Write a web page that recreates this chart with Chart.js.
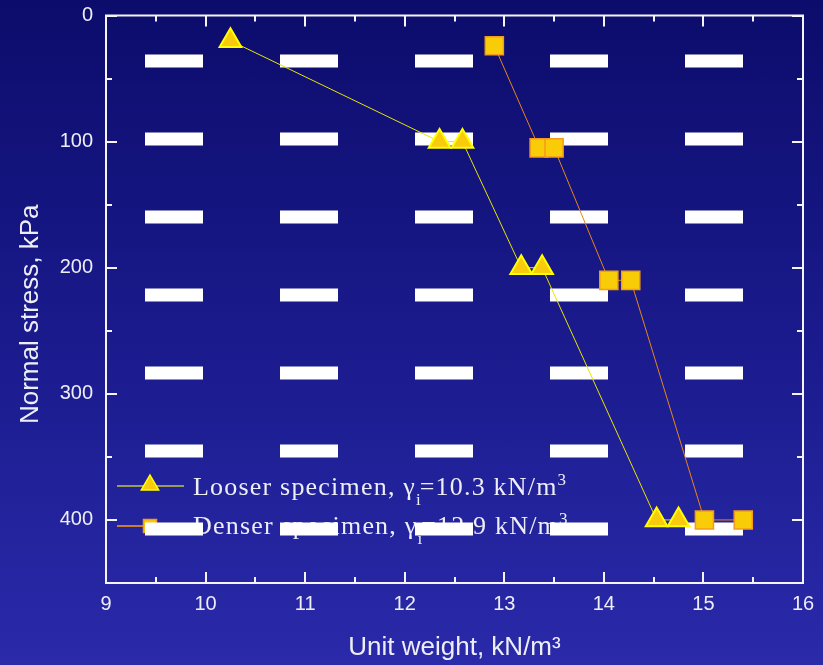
<!DOCTYPE html>
<html>
<head>
<meta charset="utf-8">
<script src="https://cdn.jsdelivr.net/npm/chart.js@4.4.1/dist/chart.umd.min.js"></script>
<style>
  html, body { margin: 0; padding: 0; }
  body {
    width: 823px; height: 665px; overflow: hidden;
    background: linear-gradient(to bottom, #0c0c6c 0%, #1a1a8c 50%, #2a2aaa 100%);
  }
</style>
</head>
<body>
<canvas id="stressChart" width="823" height="665"></canvas>
<script>
// Unit weight (kN/m3) against normal stress (kPa)
const looserWeight = [10.25, 12.35, 12.58, 13.17, 13.38, 14.53, 14.75];
const looserStress = [20, 100, 100, 200, 200, 400, 400];
const denserWeight = [12.9, 13.35, 13.5, 14.05, 14.27, 15.01, 15.4];
const denserStress = [24, 105, 105, 210, 210, 400, 400];

const weightTicks = [9, 10, 11, 12, 13, 14, 15, 16];
const stressTicks = [0, 100, 200, 300, 400];
const weightMinor = 0.5;
const stressMinor = 50;

// legend text pieces: normal, subscript, normal, superscript
const looserLabel = ['Looser specimen, γ', 'i', '=10.3 kN/m', '3'];
const denserLabel = ['Denser specimen, γ', 'i', '=12.9 kN/m', '3'];
const stressTitle = 'Normal stress, kPa';

const textColor = '#eeeef6';
const sansFamily = '"Liberation Sans", Arial, sans-serif';

function pairs(xs, ys) {
  return xs.map((x, i) => ({ x: x, y: ys[i] }));
}

function tri(ctx, x, y, r) {
  ctx.beginPath();
  ctx.moveTo(x, y - r);
  ctx.lineTo(x + r * 0.866, y + r / 2);
  ctx.lineTo(x - r * 0.866, y + r / 2);
  ctx.closePath();
}

// legend sits inside the plot, under the dash pattern
const insideLegend = {
  id: 'insideLegend',
  beforeDatasetsDraw(chart) {
    const { ctx, chartArea: a } = chart;
    const rows = [
      { parts: looserLabel, lineY: a.bottom - 97, base: a.bottom - 88, line: '#9a9a58', lw: 2, ds: 0 },
      { parts: denserLabel, lineY: a.bottom - 57, base: a.bottom - 49, line: '#ff9a10', lw: 1.5, ds: 1 }
    ];
    ctx.save();
    rows.forEach(r => {
      const ds = chart.data.datasets[r.ds];
      ctx.strokeStyle = r.line;
      ctx.lineWidth = r.lw;
      ctx.beginPath();
      ctx.moveTo(a.left + 11, r.lineY);
      ctx.lineTo(a.left + 78, r.lineY);
      ctx.stroke();
      const mx = a.left + 44;
      ctx.fillStyle = ds.pointBackgroundColor;
      ctx.strokeStyle = ds.pointBorderColor;
      ctx.lineWidth = 1.5;
      if (ds.pointStyle === 'triangle') {
        tri(ctx, mx, r.lineY - 1, 10);
      } else {
        ctx.beginPath();
        ctx.rect(mx - 6.5, r.lineY - 6.5, 13, 13);
      }
      ctx.fill();
      ctx.stroke();

      let tx = a.left + 87;
      ctx.fillStyle = textColor;
      ctx.textBaseline = 'alphabetic';
      ctx.textAlign = 'left';
      r.parts.forEach((p, i) => {
        const small = i % 2 === 1;
        ctx.font = (small ? '17px' : '26px') + ' "Liberation Serif", "Times New Roman", serif';
        ctx.letterSpacing = small ? '0px' : '1.2px';
        const dy = i === 1 ? 10 : (i === 3 ? -10 : 0);
        ctx.fillText(p, tx, r.base + dy);
        tx += ctx.measureText(p).width + (i === 1 ? -1 : 0);
      });
    });
    ctx.restore();
  }
};

// white dash pattern across the plot area
const dashPattern = {
  id: 'dashPattern',
  beforeDatasetsDraw(chart) {
    const { ctx, chartArea: a } = chart;
    ctx.save();
    ctx.beginPath();
    ctx.rect(a.left, a.top, a.right - a.left, a.bottom - a.top);
    ctx.clip();
    ctx.fillStyle = '#ffffff';
    for (let y = a.top + 39; y < a.bottom; y += 78) {
      for (let x = a.left + 39; x < a.right; x += 135) {
        ctx.fillRect(x, y, 58, 13);
      }
    }
    ctx.restore();
  }
};

// closed frame with inward ticks on all four sides, plus the vertical axis title
const frame = {
  id: 'frame',
  beforeDatasetsDraw(chart) {
    const { ctx, chartArea: a, scales: { x, y } } = chart;
    ctx.save();
    ctx.strokeStyle = '#f4f4fa';
    ctx.lineWidth = 2;
    ctx.strokeRect(a.left, a.top, a.right - a.left, a.bottom - a.top);
    ctx.beginPath();
    for (let v = x.min; v <= x.max + 1e-6; v += weightMinor) {
      const px = Math.round(x.getPixelForValue(v));
      const len = weightTicks.includes(Math.round(v * 100) / 100) ? 11 : 6;
      ctx.moveTo(px, a.bottom); ctx.lineTo(px, a.bottom - len);
      ctx.moveTo(px, a.top); ctx.lineTo(px, a.top + len);
    }
    for (let v = y.min; v <= y.max + 1e-6; v += stressMinor) {
      const py = Math.round(y.getPixelForValue(v));
      const len = stressTicks.includes(v) ? 11 : 6;
      ctx.moveTo(a.left, py); ctx.lineTo(a.left + len, py);
      ctx.moveTo(a.right, py); ctx.lineTo(a.right - len, py);
    }
    ctx.stroke();

    // axis title, set a little below the middle of the axis
    ctx.translate(31, (a.top + a.bottom) / 2 + 15);
    ctx.rotate(-Math.PI / 2);
    ctx.fillStyle = textColor;
    ctx.font = '26px ' + sansFamily;
    ctx.textAlign = 'center';
    ctx.textBaseline = 'middle';
    ctx.fillText(stressTitle, 0, 0);
    ctx.restore();
  }
};

const axisFont = { family: sansFamily, size: 20 };
const titleFont = { family: sansFamily, size: 26 };

new Chart(document.getElementById('stressChart'), {
  type: 'scatter',
  data: {
    datasets: [
      {
        label: looserLabel.join(''),
        data: pairs(looserWeight, looserStress),
        showLine: true,
        borderColor: '#e6e600',
        borderWidth: 1,
        pointStyle: 'triangle',
        pointRadius: 12.5,
        pointHoverRadius: 12.5,
        pointBackgroundColor: '#f8cb0c',
        pointBorderColor: '#ffff00',
        pointBorderWidth: 2
      },
      {
        label: denserLabel.join(''),
        data: pairs(denserWeight, denserStress),
        showLine: true,
        borderColor: '#e8861a',
        borderWidth: 1,
        pointStyle: 'rect',
        pointRadius: 12.8,
        pointHoverRadius: 12.8,
        pointBackgroundColor: '#f9cc08',
        pointBorderColor: '#f59a1e',
        pointBorderWidth: 1.5
      }
    ]
  },
  options: {
    responsive: false,
    devicePixelRatio: 1,
    animation: false,
    layout: { padding: { top: 15.5, right: 20, left: 0, bottom: 0 } },
    plugins: {
      legend: { display: false },
      tooltip: { enabled: false }
    },
    scales: {
      x: {
        type: 'linear',
        min: 9,
        max: 16,
        afterBuildTicks: s => { s.ticks = weightTicks.map(v => ({ value: v })); },
        afterFit: s => { s.height = 82; s.paddingLeft = 0; s.paddingRight = 0; },
        grid: { display: false, drawTicks: false },
        border: { display: false },
        ticks: { color: textColor, font: axisFont, padding: 9, maxRotation: 0, autoSkip: false },
        title: {
          display: true,
          text: 'Unit weight, kN/m³',
          color: textColor,
          font: titleFont,
          padding: { top: 0, bottom: 2 }
        }
      },
      y: {
        type: 'linear',
        reverse: true,
        min: 0,
        max: 450,
        afterBuildTicks: s => { s.ticks = stressTicks.map(v => ({ value: v })); },
        afterFit: s => { s.width = 106; s.paddingTop = 0; s.paddingBottom = 0; },
        grid: { display: false, drawTicks: false },
        border: { display: false },
        ticks: { color: textColor, font: axisFont, padding: 13, autoSkip: false },
        title: { display: false }
      }
    }
  },
  plugins: [insideLegend, dashPattern, frame]
});
</script>
</body>
</html>
